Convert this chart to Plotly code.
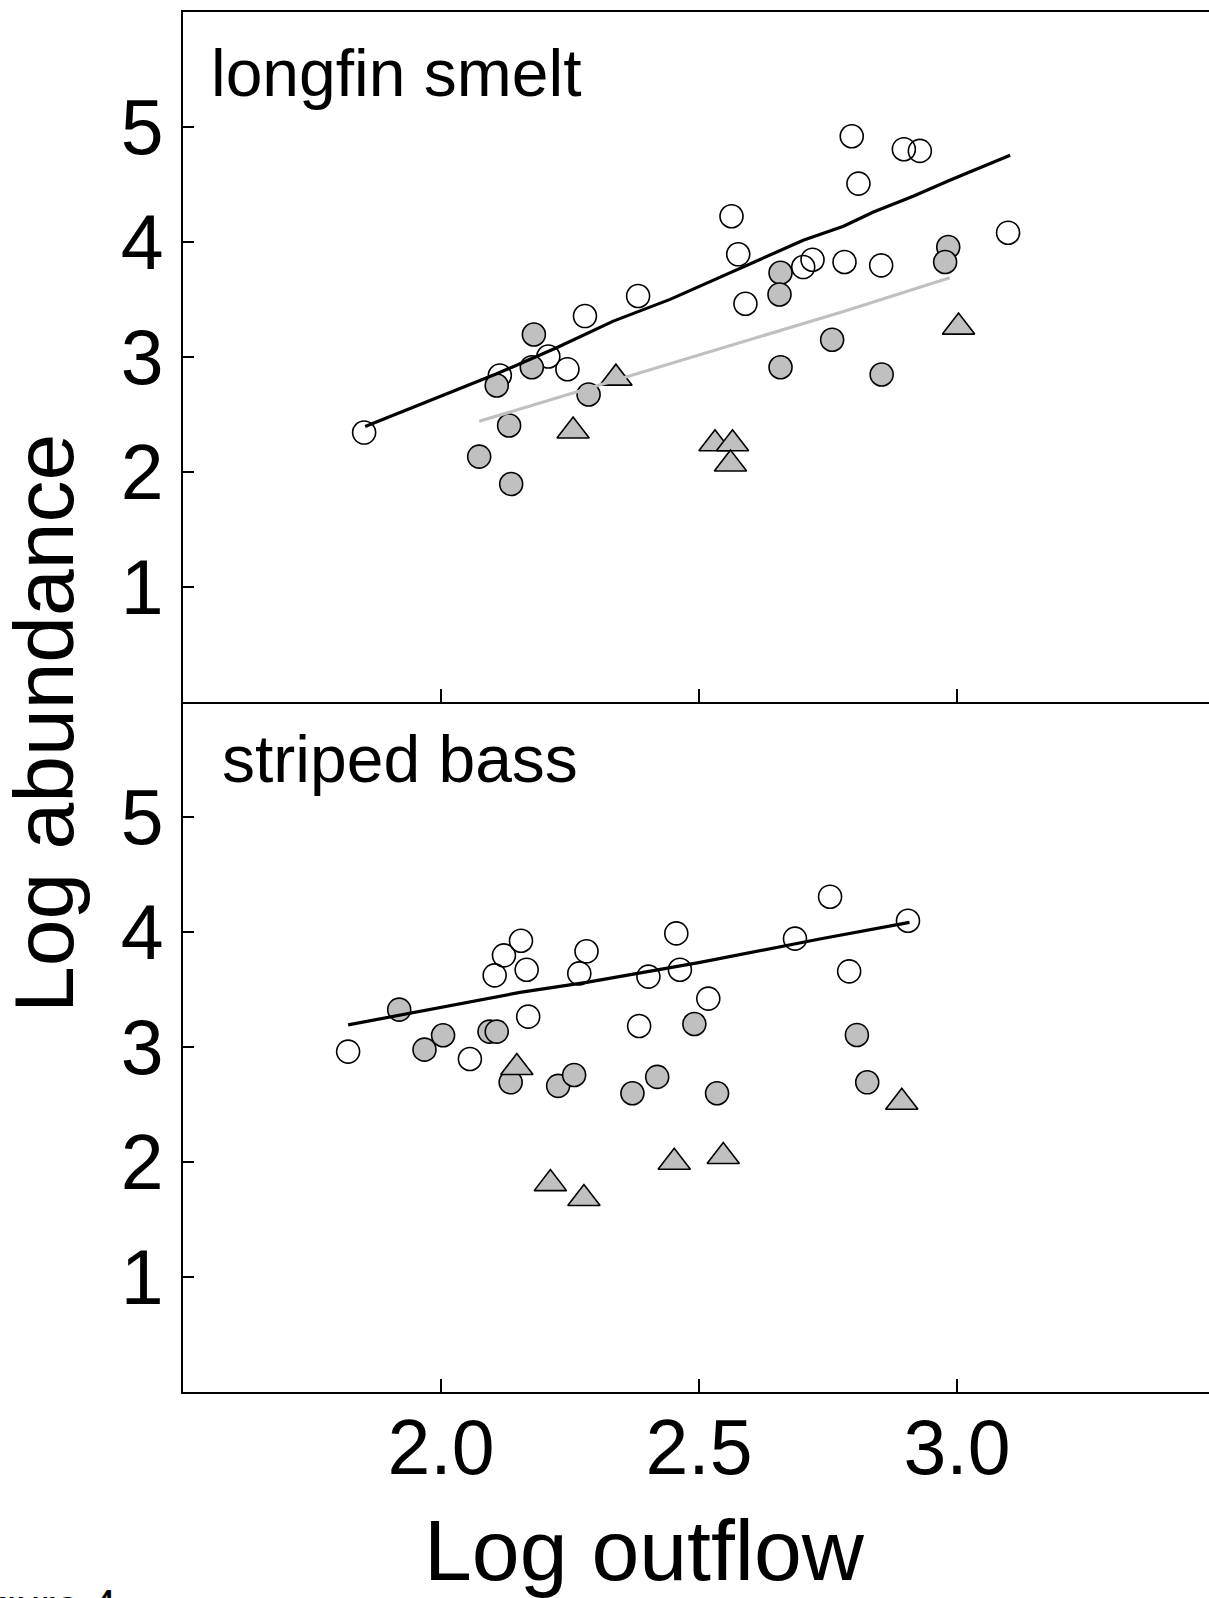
import plotly.graph_objects as go

# ---------------- data: longfin smelt (top panel) ----------------
lf_open_x = [1.851, 2.114, 2.208, 2.245, 2.279, 2.382, 2.563, 2.576, 2.590, 2.702,
             2.720, 2.782, 2.796, 2.809, 2.853, 2.897, 2.928, 3.099]
lf_open_y = [2.343, 2.839, 3.004, 2.894, 3.356, 3.530, 4.224, 3.893, 3.463, 3.782,
             3.846, 3.826, 4.920, 4.508, 3.797, 4.807, 4.792, 4.081]
lf_gray_x = [2.180, 2.176, 2.108, 2.286, 2.132, 2.074, 2.136, 2.658, 2.656, 2.658,
             2.758, 2.854, 2.983, 2.977]
lf_gray_y = [3.196, 2.911, 2.752, 2.674, 2.404, 2.134, 1.896, 3.733, 3.544, 2.911,
             3.150, 2.848, 3.957, 3.826]
lf_tri_x = [2.339, 2.256, 2.531, 2.565, 2.561, 3.003]
lf_tri_y = [2.816, 2.356, 2.246, 2.246, 2.070, 3.260]
lf_fit_x = [1.853, 2.108, 2.224, 2.334, 2.444, 2.560, 2.657, 2.702, 2.780, 2.838,
            2.915, 2.986, 3.103]
lf_fit_y = [2.395, 2.854, 3.080, 3.312, 3.501, 3.733, 3.928, 4.015, 4.137, 4.261,
            4.398, 4.537, 4.755]
lf_fit2_x = [2.074, 2.502, 2.780, 2.986]
lf_fit2_y = [2.441, 3.019, 3.396, 3.690]

# ---------------- data: striped bass (bottom panel) ----------------
sb_open_x = [1.820, 2.056, 2.104, 2.122, 2.155, 2.166, 2.169, 2.268, 2.282, 2.384,
             2.402, 2.456, 2.463, 2.518, 2.686, 2.754, 2.791, 2.905]
sb_open_y = [2.960, 2.896, 3.623, 3.797, 3.924, 3.672, 3.264, 3.640, 3.832, 3.183,
             3.612, 3.988, 3.672, 3.421, 3.942, 4.307, 3.658, 4.098]
sb_gray_x = [1.919, 2.004, 1.968, 2.094, 2.108, 2.135, 2.227, 2.258, 2.371, 2.419,
             2.491, 2.535, 2.806, 2.826]
sb_gray_y = [3.325, 3.102, 2.977, 3.134, 3.134, 2.693, 2.662, 2.757, 2.598, 2.740,
             3.200, 2.598, 3.105, 2.693]
sb_tri_x = [2.147, 2.212, 2.277, 2.452, 2.547, 2.893]
sb_tri_y = [2.822, 1.812, 1.682, 1.998, 2.048, 2.520]
sb_fit_x = [1.820, 2.153, 2.282, 2.411, 2.502, 2.734, 2.908]
sb_fit_y = [3.192, 3.475, 3.562, 3.664, 3.736, 3.939, 4.084]

# ---------------- tick labels ----------------
x_tickvals = [2.0, 2.5, 3.0]
x_ticktext = ["2.0", "2.5", "3.0"]
y_tickvals = [1, 2, 3, 4, 5]
y_ticktext = ["1", "2", "3", "4", "5"]

panel_labels = ["longfin smelt", "striped bass"]
x_title = "Log outflow"
y_title = "Log abundance"
fig_label = "Figure 4"

# ---------------- styling ----------------
FONT = "Liberation Sans, Arial, Helvetica, sans-serif"
GRAY = "#c0c0c0"
W, H = 1209, 1598
L, R, T, B = 183, 0, 12, 206


def px_x(px):
    return (px - L) / (W - L - R)


def px_y(py):
    return (H - B - py) / (H - T - B)


fig = go.Figure()


def add_panel(xa, ya, ox, oy, gx, gy, tx, ty, fits):
    fig.add_trace(go.Scatter(x=ox, y=oy, xaxis=xa, yaxis=ya, mode="markers",
                             marker=dict(symbol="circle-open", size=23, color="black",
                                         line=dict(width=1.6, color="black")),
                             showlegend=False))
    fig.add_trace(go.Scatter(x=gx, y=gy, xaxis=xa, yaxis=ya, mode="markers",
                             marker=dict(symbol="circle", size=23, color=GRAY,
                                         line=dict(width=1.6, color="black")),
                             showlegend=False))
    fig.add_trace(go.Scatter(x=tx, y=ty, xaxis=xa, yaxis=ya, mode="markers",
                             marker=dict(symbol="triangle-up", size=28, color=GRAY,
                                         line=dict(width=1.6, color="black")),
                             showlegend=False))
    for fx, fy, col in fits:
        fig.add_trace(go.Scatter(x=fx, y=fy, xaxis=xa, yaxis=ya, mode="lines",
                                 line=dict(color=col, width=3.2),
                                 showlegend=False))


add_panel("x", "y", lf_open_x, lf_open_y, lf_gray_x, lf_gray_y, lf_tri_x, lf_tri_y,
          [(lf_fit2_x, lf_fit2_y, GRAY), (lf_fit_x, lf_fit_y, "black")])
add_panel("x2", "y2", sb_open_x, sb_open_y, sb_gray_x, sb_gray_y, sb_tri_x, sb_tri_y,
          [(sb_fit_x, sb_fit_y, "black")])

x_range = [1.5, 1.5 + (W - L - R) / 516.0]
common_x = dict(range=x_range, showgrid=False, zeroline=False, showline=True,
                linecolor="black", linewidth=2, ticks="inside", ticklen=13,
                tickwidth=1.5, tickcolor="black", tickvals=x_tickvals,
                ticktext=x_ticktext)
common_y = dict(range=[0, 6], showgrid=False, zeroline=False, showline=True,
                linecolor="black", linewidth=2, ticks="inside", ticklen=11,
                tickwidth=1.5, tickcolor="black", tickvals=y_tickvals,
                ticktext=y_ticktext, ticklabelstandoff=2,
                tickfont=dict(family=FONT, size=77, color="black"))

fig.update_layout(
    width=W, height=H,
    margin=dict(l=L, r=R, t=T, b=B, pad=0),
    paper_bgcolor="white", plot_bgcolor="white",
    font=dict(family=FONT, color="black"),
    xaxis=dict(**common_x, domain=[0, 1], anchor="y", mirror=True,
               showticklabels=False),
    yaxis=dict(**common_y, domain=[0.5, 1], anchor="x"),
    xaxis2=dict(**common_x, domain=[0, 1], anchor="y2", showticklabels=True,
                ticklabelstandoff=-12,
                tickfont=dict(family=FONT, size=77, color="black")),
    yaxis2=dict(**common_y, domain=[0, 0.5], anchor="x2"),
)

annots = [
    dict(text=panel_labels[0], x=px_x(209), y=px_y(73), xanchor="left",
         yanchor="middle", font=dict(size=66)),
    dict(text=panel_labels[1], x=px_x(220), y=px_y(759), xanchor="left",
         yanchor="middle", font=dict(size=66)),
    dict(text=y_title, x=px_x(44), y=px_y(724), xanchor="center",
         yanchor="middle", textangle=-90, font=dict(size=84)),
    dict(text=x_title, x=px_x(644), y=px_y(1550), xanchor="center",
         yanchor="middle", font=dict(size=86)),
    dict(text=fig_label, x=px_x(118), y=px_y(1579), xanchor="right",
         yanchor="top", font=dict(size=44)),
]
for a in annots:
    a.update(xref="paper", yref="paper", showarrow=False)
    a["font"].update(family=FONT, color="black")
fig.update_layout(annotations=annots)

fig.write_html("out.html",
               config={"displayModeBar": False},
               post_script="document.body.style.margin='0';"
                           "document.body.style.overflow='hidden';")
